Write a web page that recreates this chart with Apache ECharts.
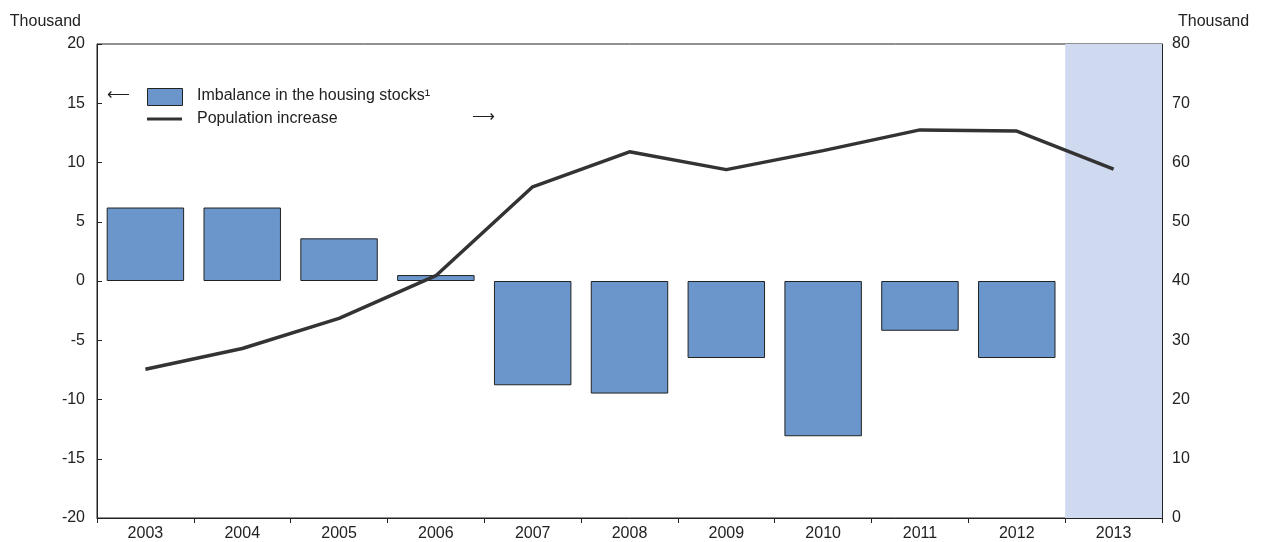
<!DOCTYPE html>
<html>
<head>
<meta charset="utf-8">
<script src="https://cdn.jsdelivr.net/npm/echarts@6/dist/echarts.min.js"></script>
<style>html,body{margin:0;padding:0;background:#fff}#chart{width:1261px;height:542px}</style>
</head>
<body>
<div id="chart"></div>
<script>
// 数据
const years = ['2003', '2004', '2005', '2006', '2007', '2008', '2009', '2010', '2011', '2012', '2013'];
const imbalance = [6.2, 6.2, 3.6, 0.5, -8.8, -9.5, -6.5, -13.1, -4.2, -6.5, null];
const population = [25.1, 28.6, 33.7, 40.9, 55.9, 61.8, 58.8, 62.0, 65.5, 65.3, 58.9];
const shadedYear = '2013';

const chart = echarts.init(document.getElementById('chart'));
const font = 'Arial, "Liberation Sans", sans-serif';
const axisText = { color: '#222', fontSize: 16, fontFamily: font };

chart.setOption({
    animation: false,
    grid: { left: 97, right: 99, top: 44, bottom: 23, show: true, borderColor: '#222', borderWidth: 1 },
    xAxis: {
        type: 'category',
        data: years,
        axisLine: { onZero: false, lineStyle: { color: '#222' } },
        axisTick: { show: true, lineStyle: { color: '#222' }, length: 5 },
        axisLabel: Object.assign({ margin: 8 }, axisText)
    },
    yAxis: [{
        type: 'value', min: -20, max: 20, interval: 5,
        name: 'Thousand', nameGap: 14, nameLocation: 'end',
        nameTextStyle: Object.assign({ align: 'right', padding: [0, 16, 0, 0] }, axisText),
        axisLine: { show: true, lineStyle: { color: '#222' } },
        axisTick: { show: true, inside: true, length: 5, lineStyle: { color: '#222' } },
        splitLine: { show: false },
        axisLabel: Object.assign({ margin: 12 }, axisText)
    }, {
        type: 'value', min: 0, max: 80, interval: 10,
        name: 'Thousand', nameGap: 14,
        nameTextStyle: Object.assign({ align: 'left', padding: [0, 0, 0, 16] }, axisText),
        axisLine: { show: true, lineStyle: { color: '#222' } },
        axisTick: { show: true, inside: true, length: 5, lineStyle: { color: '#222' } },
        splitLine: { show: false },
        axisLabel: Object.assign({ margin: 10 }, axisText)
    }],
    graphic: [
        { type: 'text', left: 107, top: 87, style: { text: '⟵', fill: '#222', font: '16px ' + font } },
        { type: 'rect', left: 147, top: 88, shape: { width: 35, height: 17 }, style: { fill: '#6a96cc', stroke: '#222', lineWidth: 1 } },
        { type: 'text', left: 197, top: 88, style: { text: 'Imbalance in the housing stocks¹', fill: '#222', font: '16px ' + font } },
        { type: 'line', shape: { x1: 147, y1: 119, x2: 182, y2: 119 }, style: { stroke: '#333', lineWidth: 3 } },
        { type: 'text', left: 197, top: 111, style: { text: 'Population increase', fill: '#222', font: '16px ' + font } },
        { type: 'text', left: 472, top: 109, style: { text: '⟶', fill: '#222', font: '16px ' + font } }
    ],
    series: [{
        type: 'bar',
        data: imbalance,
        barWidth: '80%',
        itemStyle: { color: '#6a96cc', borderColor: '#222', borderWidth: 1 },
        markArea: {
            silent: true,
            itemStyle: { color: '#cfdaf0' },
            data: [[{ xAxis: shadedYear }, { xAxis: shadedYear }]]
        }
    }, {
        type: 'line',
        yAxisIndex: 1,
        data: population,
        symbol: 'none',
        lineStyle: { color: '#333', width: 3.5 },
        z: 5
    }]
});
</script>
</body>
</html>
